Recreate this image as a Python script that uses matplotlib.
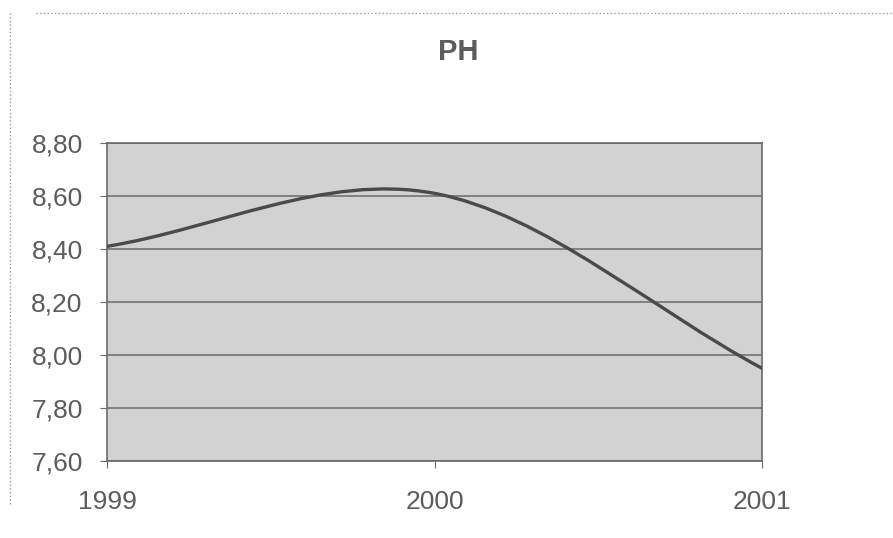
import numpy as np
import matplotlib
matplotlib.use("Agg")
import matplotlib.pyplot as plt
from matplotlib.path import Path
from matplotlib.patches import PathPatch
from matplotlib.lines import Line2D
from matplotlib.ticker import FuncFormatter

# data
years = ['1999', '2000', '2001']
ph = [8.41, 8.61, 7.95]
y_ticks = [7.60, 7.80, 8.00, 8.20, 8.40, 8.60, 8.80]

plt.rcParams['font.family'] = ['Liberation Sans', 'DejaVu Sans']

fig = plt.figure(figsize=(8.93, 5.38), dpi=100)
ax = fig.add_axes([107 / 893, 77 / 538, 655 / 893, 318 / 538])

ax.set_facecolor('#d2d2d2')
ax.set_xlim(0, len(years) - 1)
ax.set_ylim(y_ticks[0], y_ticks[-1])

# excel-style smoothed line: bezier through the points
x = np.arange(len(ph), dtype=float)
y = np.array(ph)
verts = [(x[0], y[0])]
codes = [Path.MOVETO]
for i in range(len(x) - 1):
    if i == 0:
        c1 = (x[0] + (x[1] - x[0]) / 3, y[0] + (y[1] - y[0]) / 3)
    else:
        c1 = (x[i] + (x[i + 1] - x[i - 1]) / 6, y[i] + (y[i + 1] - y[i - 1]) / 6)
    if i + 1 == len(x) - 1:
        c2 = (x[i + 1] - (x[i + 1] - x[i]) / 3, y[i + 1] - (y[i + 1] - y[i]) / 3)
    else:
        c2 = (x[i + 1] - (x[i + 2] - x[i]) / 6, y[i + 1] - (y[i + 2] - y[i]) / 6)
    verts += [c1, c2, (x[i + 1], y[i + 1])]
    codes += [Path.CURVE4] * 3
ax.add_patch(PathPatch(Path(verts, codes), fill=False, edgecolor='#4a4a4a',
                       lw=2.4, zorder=3, capstyle='round'))

ax.set_yticks(y_ticks)
ax.yaxis.set_major_formatter(FuncFormatter(lambda v, p: f'{v:.2f}'.replace('.', ',')))
ax.set_xticks(x)
ax.set_xticklabels(years)
ax.grid(axis='y', color='#7a7a7a', lw=1.3)
ax.set_axisbelow(True)

for s in ax.spines.values():
    s.set_color('#6a6a6a')
    s.set_linewidth(1.2)
ax.tick_params(axis='y', length=5, color='#6a6a6a', pad=12.5, labelsize=19, labelcolor='#5c5c5c')
ax.tick_params(axis='x', length=5, color='#6a6a6a', pad=16, labelsize=19, labelcolor='#5c5c5c')

fig.text(458 / 893, 1 - 52 / 538, 'PH', ha='center', va='center',
         fontsize=21, fontweight='bold', color='#5c5c5c')

# dotted outer chart frame
fig.add_artist(Line2D([10 / 893, 10 / 893], [1 - 13 / 538, 1 - 505 / 538],
                      transform=fig.transFigure, color='#9a9a9a', lw=1, ls=':'))
fig.add_artist(Line2D([36 / 893, 1], [1 - 13 / 538, 1 - 13 / 538],
                      transform=fig.transFigure, color='#9a9a9a', lw=1, ls=':'))

fig.savefig('out.png', dpi=100)
